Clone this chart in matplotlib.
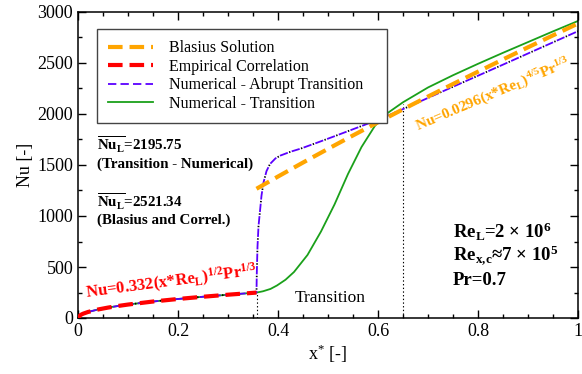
import matplotlib
matplotlib.use("Agg")
import matplotlib.pyplot as plt
from matplotlib.ticker import MultipleLocator, FuncFormatter

plt.rcParams['font.family'] = ['Liberation Serif', 'DejaVu Serif']
plt.rcParams['mathtext.default'] = 'regular'
plt.rcParams['lines.scale_dashes'] = False

# Laminar correlation, Nu = 0.332 (x Re_L)^1/2 Pr^1/3
x_lam = [0.0, 0.005, 0.01, 0.02, 0.04, 0.06, 0.08, 0.1, 0.15, 0.2, 0.25, 0.3, 0.357]
nu_lam = [0.0, 29.5, 41.7, 59.0, 83.4, 102.1, 117.9, 131.8, 161.5, 186.4, 208.4, 228.3, 249.1]

# Blasius turbulent solution, Nu = 0.0296 (x Re_L)^4/5 Pr^1/3
x_blas = [0.357, 0.4, 0.45, 0.5, 0.55, 0.6, 0.65, 0.7, 0.75, 0.8, 0.85, 0.9, 0.95, 1.0]
nu_blas = [1267, 1387, 1524, 1658, 1790, 1919, 2046, 2171, 2294, 2415, 2535, 2654, 2771, 2887]

# Numerical run with abrupt transition (after the laminar part)
x_abrupt = [0.3575, 0.359, 0.361, 0.364, 0.367, 0.371, 0.377, 0.384, 0.395, 0.405,
            0.425, 0.445, 0.48, 0.513, 0.54, 0.567, 0.6, 0.65, 0.75, 0.85, 1.0]
nu_abrupt = [420, 700, 900, 1049, 1200, 1328, 1440, 1510, 1565, 1593,
             1630, 1660, 1722, 1782, 1832, 1882, 1943, 2048, 2267, 2484, 2812]

# Numerical run with gradual transition (after the laminar part)
x_trans = [0.37, 0.385, 0.398, 0.415, 0.432, 0.459, 0.486, 0.513, 0.54, 0.567, 0.594,
           0.62, 0.65, 0.7, 0.75, 0.8, 0.85, 0.9, 0.95, 1.0]
nu_trans = [262, 285, 319, 375, 451, 618, 848, 1113, 1412, 1676, 1885,
            2012, 2115, 2260, 2380, 2492, 2600, 2705, 2810, 2912]

x_crit = 0.357
x_end = 0.65
nu_end = 2100

fig = plt.figure(figsize=(5.82, 3.74), dpi=100)
ax = fig.add_axes([78 / 582, 56 / 374, 500 / 582, 306 / 374])

x_green = x_lam + x_trans
nu_green = nu_lam + nu_trans
x_blue = x_lam + x_abrupt
nu_blue = nu_lam + nu_abrupt

ax.plot(x_green, nu_green, color='#1aa01a', lw=1.3, zorder=2, label='Numerical - Transition')
ax.plot(x_blue, nu_blue, color='#5a00ff', lw=1.3, linestyle=(0, (6, 3)), zorder=3,
        label='Numerical - Abrupt Transition')
ax.plot(x_blue, nu_blue, color='black', lw=1.3, linestyle=(2, (1, 8)), zorder=3)
ax.plot(x_blas, nu_blas, color='#ffa500', lw=3, linestyle=(0, (10.5, 5)), zorder=4,
        label='Blasius Solution')
ax.plot(x_lam, nu_lam, color='#ff0000', lw=3, linestyle=(0, (10.5, 5)), zorder=5,
        label='Empirical Correlation')

ax.plot([x_crit, x_crit], [0, nu_lam[-1]], color='black', lw=0.8, linestyle=':', zorder=1)
ax.plot([x_end, x_end], [0, nu_end], color='black', lw=0.8, linestyle=':', zorder=1)

ax.set_xlim(0, 1)
ax.set_ylim(0, 3000)
ax.xaxis.set_major_locator(MultipleLocator(0.2))
ax.xaxis.set_minor_locator(MultipleLocator(0.05))
ax.yaxis.set_major_locator(MultipleLocator(500))
ax.yaxis.set_minor_locator(MultipleLocator(250))
ax.xaxis.set_major_formatter(FuncFormatter(lambda v, p: '%g' % v))
ax.tick_params(which='both', direction='in', top=True, right=True, labelsize=13, width=1)
ax.tick_params(which='major', length=6)
ax.tick_params(which='minor', length=3)
for s in ax.spines.values():
    s.set_linewidth(1.1)

ax.set_xlabel('x$^{*}$ [-]', fontsize=13, labelpad=2)
ax.set_ylabel('Nu [-]', fontsize=13, labelpad=2)

handles, labels = ax.get_legend_handles_labels()
order = [2, 3, 1, 0]
leg = ax.legend([handles[i] for i in order], [labels[i] for i in order],
                loc='upper left', bbox_to_anchor=(0.038, 0.5, 0.58, 0.444), mode='expand',
                fontsize=11.5, frameon=True, fancybox=False, edgecolor='#444444', framealpha=1,
                handlelength=2.8, handletextpad=1.0, labelspacing=0.15,
                borderpad=0.7, borderaxespad=0)
leg.get_frame().set_linewidth(1)

ax.text(0.038, 1700, r'$\overline{Nu_L}$=2195.75', fontsize=10.8, fontweight='bold', va='center')
ax.text(0.038, 1510, '(Transition - Numerical)', fontsize=10.8, fontweight='bold', va='center')
ax.text(0.038, 1140, r'$\overline{Nu_L}$=2521.34', fontsize=10.8, fontweight='bold', va='center')
ax.text(0.038, 960, '(Blasius and Correl.)', fontsize=10.8, fontweight='bold', va='center')

ax.text(0.186, 355, r'Nu=0.332(x*Re$_L$)$^{1/2}$Pr$^{1/3}$', color='#ff0000', fontsize=12,
        fontweight='bold', rotation=7.5, ha='center', va='center', zorder=6)
ax.text(0.83, 2190, r'Nu=0.0296(x*Re$_L$)$^{4/5}$Pr$^{1/3}$', color='#ffa500', fontsize=11,
        fontweight='bold', rotation=23, ha='center', va='center', zorder=6)
ax.text(0.504, 196, 'Transition', fontsize=12.5, ha='center', va='center')

ax.text(0.75, 845, r'Re$_L$=2 × 10$^6$', fontsize=13.5, fontweight='bold', va='center')
ax.text(0.75, 612, r'Re$_{x,\!c}$≈7 × 10$^5$', fontsize=13.5, fontweight='bold', va='center')
ax.text(0.75, 370, 'Pr=0.7', fontsize=13.5, fontweight='bold', va='center')

fig.savefig('out.png', dpi=100)
